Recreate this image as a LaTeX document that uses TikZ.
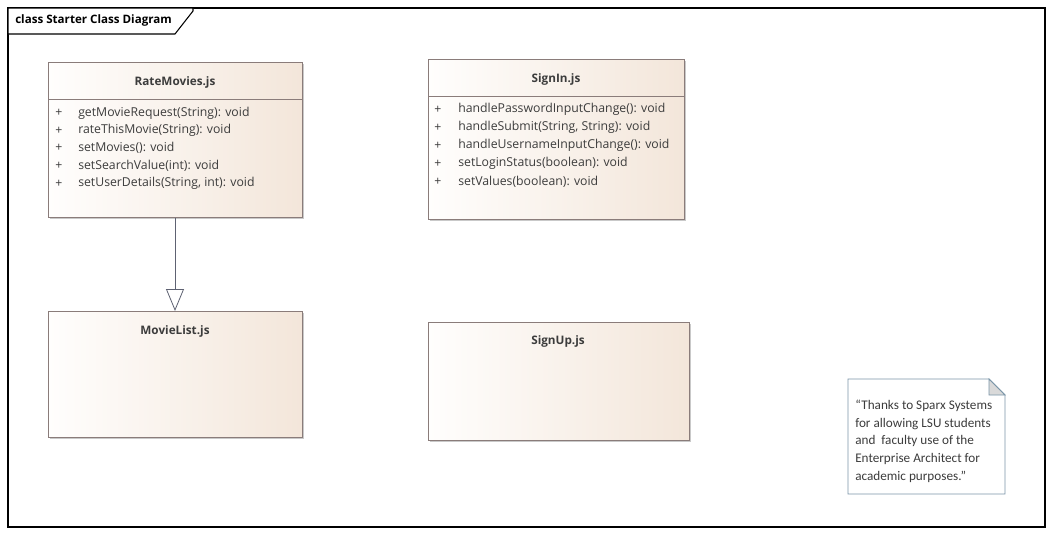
\documentclass[tikz,border=0pt]{standalone}
\usepackage{fontspec}
\setmainfont{Open Sans}
\newfontfamily\notefont{Carlito}
\usetikzlibrary{calc,shapes,arrows.meta,shadows}

\definecolor{classline}{HTML}{8A7C7A}
\definecolor{classleft}{HTML}{FFFEFD}
\definecolor{classright}{HTML}{F3E6DA}
\definecolor{textgray}{HTML}{3C3C3C}
\definecolor{notedge}{HTML}{7A95A8}
\definecolor{linkcol}{HTML}{5E6272}

\tikzset{
  classbox/.style={draw=classline, left color=classleft, right color=classright,
    anchor=north west, inner sep=0pt,
    drop shadow={shadow xshift=1.6pt, shadow yshift=-1.6pt, fill=black!35, opacity=0.6}},
  classname/.style={font=\bfseries\fontsize{8.8}{10}\selectfont, text=textgray},
  member/.style={font=\fontsize{9.2}{10}\selectfont, text=textgray, anchor=west, inner sep=0pt},
  notetext/.style={font=\notefont\fontsize{9.9}{13.2}\selectfont, text=textgray, align=left, anchor=north west, inner sep=0pt}
}

\begin{document}
\begin{tikzpicture}[x=0.75pt,y=-0.75pt]
  \useasboundingbox (0,0) rectangle (1053,536);
  \fill [white] (0,0) rectangle (1053,536);

  % frame
  \draw [black, line width=0.8pt] (8,8) rectangle (1045,527);
  \draw [black, line width=0.8pt, fill=white] (8,8) -- (193,8) -- (193,11) -- (175,34) -- (8,34) -- cycle;
  \node [anchor=west, inner sep=0pt, font=\bfseries\fontsize{8.7}{10}\selectfont] (frametitle) at (15,20) {class Starter Class Diagram};

  % classes
  \node [classbox, minimum width=254*0.75pt, minimum height=155*0.75pt] (rate) at (48,62) {};
  \draw [classline] ($(rate.north west)+(0,37)$) -- ($(rate.north east)+(0,37)$);
  \node [classname] (ratetitle) at (175,82) {RateMovies.js};

  \node [classbox, minimum width=254*0.75pt, minimum height=126*0.75pt] (list) at (48,311) {};
  \node [classname] (listtitle) at (175,331) {MovieList.js};

  \node [classbox, minimum width=256*0.75pt, minimum height=160*0.75pt] (signin) at (428,59) {};
  \draw [classline] ($(signin.north west)+(0,37)$) -- ($(signin.north east)+(0,37)$);
  \node [classname] (signintitle) at (556,79) {SignIn.js};

  \node [classbox, minimum width=261*0.75pt, minimum height=118*0.75pt] (signup) at (428,322) {};
  \node [classname] (signuptitle) at (558,341) {SignUp.js};

  % operations
  \foreach \txt [count=\i] in {getMovieRequest(String): void, rateThisMovie(String): void, setMovies(): void, setSearchValue(int): void, {setUserDetails(String, int): void}} {
    \node [member] (rateplus\i) at (55,95.5+17.6*\i) {+};
    \node [member] (rateop\i) at (78,95.5+17.6*\i) {\txt};
  }
  \foreach \txt [count=\i] in {handlePasswordInputChange(): void, {handleSubmit(String, String): void}, handleUsernameInputChange(): void, setLoginStatus(boolean): void, setValues(boolean): void} {
    \node [member] (signinplus\i) at (434,91.5+18*\i) {+};
    \node [member] (signinop\i) at (458,91.5+18*\i) {\txt};
  }

  % generalization
  \draw [linkcol, line width=0.6pt, -{Triangle[open, length=16.5pt, width=13.5pt]}] (rate.south -| 175,0) -- (list.north -| 175,0);

  % note
  \draw [notedge, line width=0.6pt, fill=white] (848,379) -- (989,379) -- (1005,395) -- (1005,494) -- (848,494) -- cycle;
  \draw [notedge, line width=0.6pt, fill=black!15] (989,379) -- (989,395) -- (1005,395) -- cycle;
  \node [notetext] (note) at (855,400) {“Thanks to Sparx Systems\\for allowing LSU students\\and \ faculty use of the\\Enterprise Architect for\\academic purposes.”};
\end{tikzpicture}
\end{document}
